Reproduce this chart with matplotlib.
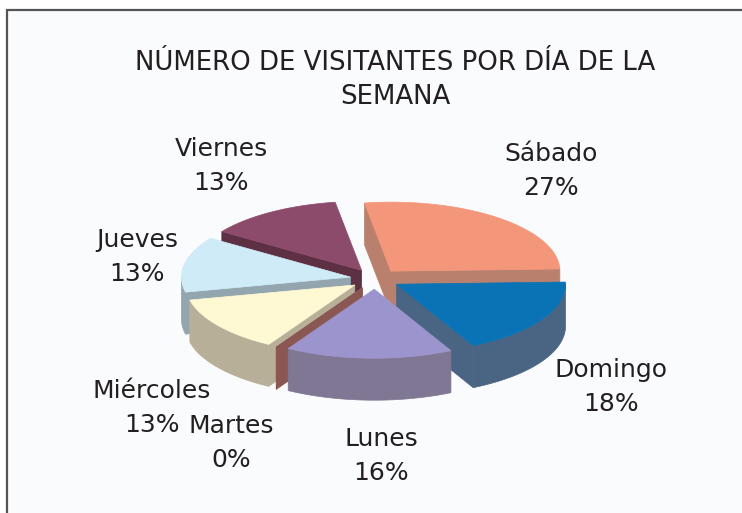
import numpy as np
import matplotlib.pyplot as plt
from matplotlib.patches import Polygon, Rectangle

plt.rcParams['font.family'] = ['DejaVu Sans']

# Data
days = ['Sábado', 'Domingo', 'Lunes', 'Martes', 'Miércoles', 'Jueves', 'Viernes']
percent = [27, 18, 16, 0, 13, 13, 13]

# Styles
top_colors = ['#F4967A', '#0A73B5', '#9C94CC', '#8C5A56', '#FEF9D2', '#CFEBF8', '#8C4B6B']
wall_colors = ['#B9806E', '#4A6584', '#7F7793', '#8A5752', '#B8AF98', '#93A5AE', '#5E3044']
label_xy = [(551, 171), (611, 387), (381, 456), (231, 443), (152, 408), (137, 257), (221, 166)]

# Pie geometry (pixels)
cx, cy = 375, 279
rx, ry = 169, 69
depth = 42
explode = 25
start = 99.0

fig = plt.figure(figsize=(7.42, 5.13), dpi=100)
ax = fig.add_axes([0, 0, 1, 1])
ax.set_xlim(0, 742)
ax.set_ylim(513, 0)
ax.axis('off')

# chart frame
ax.add_patch(Rectangle((7, 10), 800, 600, facecolor='#FAFBFD', edgecolor='#555555', lw=1.6))

total = sum(percent)
slices = []
cum = 0
for i, p in enumerate(percent):
    t1 = start - 360 * cum / total
    t2 = t1 - 360 * p / total
    cum += p
    mid = np.radians((t1 + t2) / 2)
    tx = cx + explode * np.cos(mid)
    ty = cy - explode * ry / rx * np.sin(mid)
    slices.append((np.sin(mid), i, t1, t2, tx, ty))

# draw from back to front
slices.sort(key=lambda s: -s[0])

for _, i, t1, t2, tx, ty in slices:
    n = max(2, int(abs(t1 - t2)) + 2)
    th = np.radians(np.linspace(t1, t2, n))
    xs = tx + rx * np.cos(th)
    ys = ty - ry * np.sin(th)

    # outer wall (front half only)
    front = np.sin(th) <= 0.001
    if front.sum() >= 2:
        fx, fy = xs[front], ys[front]
        wall = np.column_stack([np.r_[fx, fx[::-1]], np.r_[fy, fy[::-1] + depth]])
        ax.add_patch(Polygon(wall, closed=True, facecolor=wall_colors[i], edgecolor=wall_colors[i], lw=0.5))

    # radial walls
    for t, x, y, vis in [(t1, xs[0], ys[0], np.cos(np.radians(t1)) < 0),
                         (t2, xs[-1], ys[-1], np.cos(np.radians(t2)) > 0)]:
        if vis or percent[i] == 0:
            quad = [(tx, ty), (x, y), (x, y + depth), (tx, ty + depth)]
            ax.add_patch(Polygon(quad, closed=True, facecolor=wall_colors[i], edgecolor=wall_colors[i], lw=0.5))

    # top face
    if percent[i] > 0:
        top = np.column_stack([np.r_[tx, xs], np.r_[ty, ys]])
        ax.add_patch(Polygon(top, closed=True, facecolor=top_colors[i], edgecolor=top_colors[i], lw=0.5))

# labels, one line each (name above, percentage below)
for day, p, (lx, ly) in zip(days, percent, label_xy):
    ax.text(lx, ly - 17, day, ha='center', va='center', fontsize=18, color='#231F20')
    ax.text(lx, ly + 17, f'{p}%', ha='center', va='center', fontsize=18, color='#231F20')

ax.text(395, 80, 'NÚMERO DE VISITANTES POR DÍA DE LA\nSEMANA', ha='center', va='center',
        fontsize=18.7, color='#231F20', linespacing=1.38)

fig.savefig('out.png', dpi=100)
